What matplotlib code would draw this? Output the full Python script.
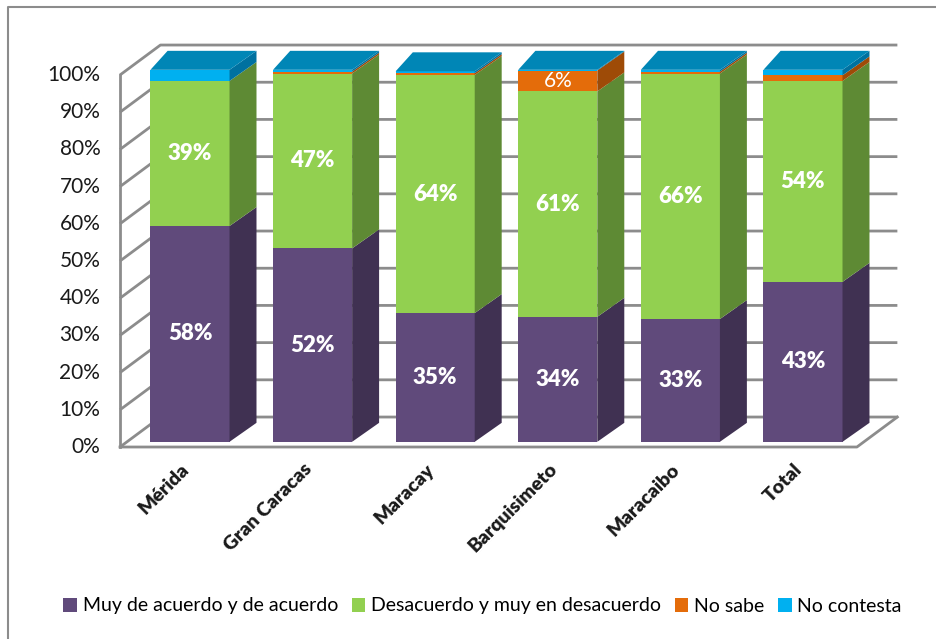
import matplotlib
matplotlib.use("Agg")
import matplotlib.pyplot as plt
from matplotlib.patches import Polygon, Patch
from matplotlib.lines import Line2D

plt.rcParams['font.family'] = ['Lato', 'DejaVu Sans']

# data (percent)
cities = ["Mérida", "Gran Caracas", "Maracay", "Barquisimeto", "Maracaibo", "Total"]
muy_acuerdo = [58, 52, 34.6, 33.6, 33, 43]
desacuerdo = [39, 47, 64, 60.6, 66, 54]
no_sabe = [0, 0.5, 0.5, 5.6, 0.5, 1.5]
no_contesta = [3, 0.5, 0.5, 0.2, 0.5, 1.5]
series_names = ["Muy de acuerdo y de acuerdo", "Desacuerdo y muy en desacuerdo",
                "No sabe", "No contesta"]
y_ticks = [0, 10, 20, 30, 40, 50, 60, 70, 80, 90, 100]

# colours: front, side, top
front = ["#604A7B", "#92D050", "#E46C0A", "#00B0F0"]
side = ["#403152", "#5E8A34", "#9E4B07", "#0071A0"]
top = ["#4C3A63", "#76A83F", "#C05A08", "#0086B6"]

fig = plt.figure(figsize=(9.37, 6.39), dpi=100)
W, H = 937, 639
# axes placed so one category = 122.6 px and 1% = 3.72 px
ax = fig.add_axes([100 / W, (H - 470) / H, 810 / W, 440 / H])
ax.set_xlim(-0.734, 5.873)
ax.set_ylim(-6.18, 112.1)
ax.axis("off")

# wall / floor geometry
x_front_l, x_front_r = -0.571, 5.44
wdx, wdy = 0.33, 8.06
grid_c = "#8C8C8C"
for v in y_ticks:
    ax.plot([x_front_l, x_front_l + wdx, x_front_r + wdx],
            [v, v + wdy, v + wdy], color=grid_c, lw=2, zorder=1,
            solid_capstyle="butt")
    ax.text(x_front_l - 0.16, v, f"{v}%", ha="right", va="center",
            fontsize=15, color="#1a1a1a")
ax.plot([x_front_l, x_front_l], [0, 100], color=grid_c, lw=2, zorder=1)
ax.plot([x_front_l, x_front_r, x_front_r + wdx], [0, 0, wdy],
        color=grid_c, lw=2, zorder=1)

# bars
bw = 0.645
base = 1.4
dxl, dxr, bdy = 0.14, 0.22, 5.1
stack = [muy_acuerdo, desacuerdo, no_sabe, no_contesta]
for i, city in enumerate(cities):
    y0 = base
    xl, xr = i - bw / 2, i + bw / 2
    top_k = 0
    for k, vals in enumerate(stack):
        v = vals[i]
        if v <= 0:
            continue
        top_k = k
        ax.bar(i, v, bottom=y0, width=bw, color=front[k], zorder=3,
               linewidth=0)
        ax.add_patch(Polygon([(xr, y0), (xr + dxr, y0 + bdy),
                              (xr + dxr, y0 + v + bdy), (xr, y0 + v)],
                             closed=True, facecolor=side[k], edgecolor="none",
                             zorder=3))
        if v >= 5:
            bold = k < 2
            ax.text(i, y0 + v / 2, f"{round(v)}%", ha="center", va="center",
                    color="white", fontsize=16 if bold else 15,
                    fontweight="heavy" if bold else "normal", zorder=5)
        y0 += v
    ax.add_patch(Polygon([(xl, y0), (xr, y0), (xr + dxr, y0 + bdy),
                          (xl + dxl, y0 + bdy)],
                         closed=True, facecolor=top[top_k], edgecolor="none",
                         zorder=4))
    ax.text(i + 0.02, -3.6, city, rotation=45, ha="right", va="top",
            fontsize=14, fontweight="heavy", color="#1a1a1a")

# legend
handles = [Patch(facecolor=c, edgecolor="none") for c in front]
fig.legend(handles, series_names, loc="center", ncol=4,
           bbox_to_anchor=(0.515, (H - 606) / H), frameon=False,
           fontsize=14, handlelength=0.7, handleheight=0.7,
           handletextpad=0.3, columnspacing=0.7)

# chart border (top and left visible)
fig.add_artist(Line2D([8 / W, 8 / W, 1.0], [0.0, 1 - 7 / H, 1 - 7 / H],
                      transform=fig.transFigure, color="#8C8C8C", lw=1.5))

fig.savefig("out.png", dpi=100)
